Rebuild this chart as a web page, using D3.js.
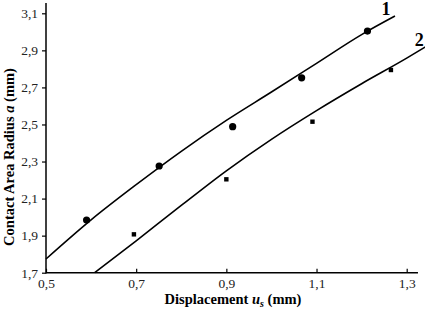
<!DOCTYPE html>
<html>
<head>
<meta charset="utf-8">
<script src="https://cdn.jsdelivr.net/npm/d3@7"></script>
<style>
  html, body { margin: 0; padding: 0; background: #fff; }
  svg { display: block; }
  text { font-family: "Liberation Serif", "DejaVu Serif", serif; }
</style>
</head>
<body>
<div id="chart"></div>
<script>
// Measured points
const series1X = [0.590, 0.751, 0.914, 1.067, 1.213];
const series1Y = [1.984, 2.276, 2.488, 2.752, 3.004];
const series2X = [0.695, 0.900, 1.091, 1.265];
const series2Y = [1.907, 2.204, 2.515, 2.794];

// Fitted curves
const curve1X = [0.500, 0.600, 0.700, 0.800, 0.900, 1.000, 1.100, 1.200, 1.274];
const curve1Y = [1.774, 1.985, 2.175, 2.355, 2.522, 2.675, 2.830, 2.985, 3.085];
const curve2X = [0.608, 0.700, 0.800, 0.900, 1.000, 1.100, 1.200, 1.300, 1.341];
const curve2Y = [1.700, 1.872, 2.063, 2.250, 2.420, 2.575, 2.720, 2.858, 2.918];

const xTicks = [0.5, 0.7, 0.9, 1.1, 1.3];
const yTicks = [1.7, 1.9, 2.1, 2.3, 2.5, 2.7, 2.9, 3.1];
const curveLabels = ["1", "2"];

const W = 425, H = 314;
const svg = d3.select("#chart").append("svg").attr("width", W).attr("height", H);

const x = d3.scaleLinear().domain([0.5, 1.3]).range([46, 406.7]);
const y = d3.scaleLinear().domain([1.7, 3.1]).range([272.7, 13.3]);
const fmt = d => d3.format(".1f")(d).replace(".", ",");

// X axis
const xAxis = svg.append("g").attr("transform", `translate(0,${y(1.7)})`)
  .call(d3.axisBottom(x).tickValues(xTicks).tickSize(-4).tickPadding(6).tickFormat(fmt));
xAxis.select(".domain").attr("d", `M${x(0.5)},0H${x(1.325)}`);

// Y axis
const yAxis = svg.append("g").attr("transform", `translate(${x(0.5)},0)`)
  .call(d3.axisLeft(y).tickValues(yTicks).tickSize(4).tickPadding(4).tickFormat(fmt));
yAxis.select(".domain").attr("d", `M0,${y(3.155)}V${y(1.7) + 0.8}`);

[xAxis, yAxis].forEach(g => {
  g.selectAll(".domain").attr("stroke", "#000").attr("stroke-width", 1.5);
  g.selectAll(".tick line").attr("stroke", "#000").attr("stroke-width", 1.2);
  g.selectAll(".tick text").attr("fill", "#222").style("font-size", "13.5px")
    .style("font-family", "'Liberation Serif', serif");
});

// Curves
const line = d3.line().x(d => x(d[0])).y(d => y(d[1])).curve(d3.curveMonotoneX);
const c1 = curve1X.map((v, i) => [v, curve1Y[i]]);
const c2 = curve2X.map((v, i) => [v, curve2Y[i]]);
[c1, c2].forEach(c => {
  svg.append("path").datum(c).attr("d", line)
    .attr("fill", "none").attr("stroke", "#000").attr("stroke-width", 1.6);
});

// Markers
svg.selectAll("circle.s1").data(series1X.map((v, i) => [v, series1Y[i]])).enter()
  .append("circle").attr("class", "s1")
  .attr("cx", d => x(d[0])).attr("cy", d => y(d[1])).attr("r", 3.6).attr("fill", "#000");
const sq = 4.4;
svg.selectAll("rect.s2").data(series2X.map((v, i) => [v, series2Y[i]])).enter()
  .append("rect").attr("class", "s2")
  .attr("x", d => x(d[0]) - sq / 2).attr("y", d => y(d[1]) - sq / 2)
  .attr("width", sq).attr("height", sq).attr("fill", "#000");

// Curve labels
const lastC1 = c1[c1.length - 1], lastC2 = c2[c2.length - 1];
svg.append("text").attr("x", x(lastC1[0]) - 9).attr("y", y(lastC1[1]) - 1)
  .attr("text-anchor", "middle").style("font-size", "18px").style("font-weight", "bold")
  .text(curveLabels[0]);
svg.append("text").attr("x", x(lastC2[0]) - 6).attr("y", y(lastC2[1]) - 1)
  .attr("text-anchor", "middle").style("font-size", "18px").style("font-weight", "bold")
  .text(curveLabels[1]);

// Axis titles
const xt = svg.append("text").attr("x", 233).attr("y", 304).attr("text-anchor", "middle")
  .style("font-size", "14.5px").style("font-weight", "bold");
xt.append("tspan").text("Displacement ");
xt.append("tspan").style("font-style", "italic").text("u");
xt.append("tspan").style("font-style", "italic").style("font-size", "10px").attr("dy", 3).text("s");
xt.append("tspan").attr("dy", -3).text(" (mm)");

const yt = svg.append("text").attr("transform", "translate(13.5,157) rotate(-90)")
  .attr("text-anchor", "middle").style("font-size", "14.5px").style("font-weight", "bold");
yt.append("tspan").text("Contact Area Radius ");
yt.append("tspan").style("font-style", "italic").text("a");
yt.append("tspan").text(" (mm)");
</script>
</body>
</html>
